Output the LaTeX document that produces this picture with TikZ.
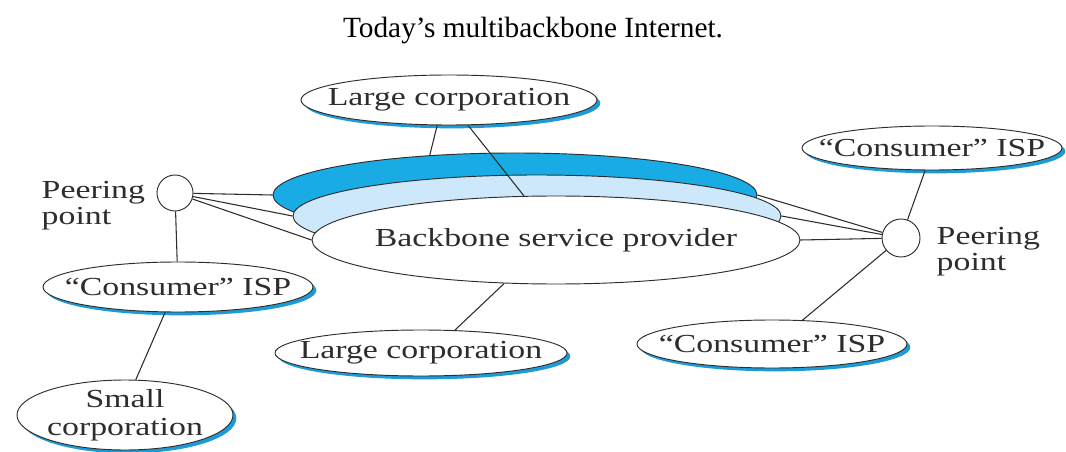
\documentclass[tikz,border=0pt]{standalone}
\usepackage{fontspec}
\setmainfont{Liberation Serif}
\newfontfamily\dgfont[FakeStretch=1.3]{Liberation Serif}
\usetikzlibrary{shapes.geometric,shadows}
\definecolor{bandDark}{RGB}{25,172,228}
\definecolor{bandLight}{RGB}{205,232,250}
\definecolor{shBlue}{RGB}{30,155,215}
\definecolor{ink}{RGB}{45,45,45}
\tikzset{
  x=0.75pt, y=-0.75pt,
  lbl/.style={font=\dgfont\fontsize{19.5}{19.5}\selectfont, text=ink},
  oval/.style={ellipse, draw=ink, line width=0.7pt, fill=white, inner xsep=-80pt, inner ysep=-30pt,
    lbl, general shadow={shadow xshift=2.5pt, shadow yshift=-2.5pt, fill=shBlue}},
  band/.style={ellipse, draw=ink, line width=0.7pt, inner xsep=-150pt, inner ysep=-30pt},
  peer/.style={circle, draw=ink, line width=0.7pt, fill=white, inner sep=0pt},
  link/.style={draw=ink, line width=0.8pt},
}
\begin{document}
\begin{tikzpicture}
\useasboundingbox[fill=white] (0,0) rectangle (1066,452);
\node[font=\fontsize{22}{24}\selectfont] (title) at (533,30) {Today’s multibackbone Internet.};

% backbone stack
\node[band, fill=bandDark, minimum width=363pt, minimum height=63pt] (dark) at (515,195) {};
\node[band, fill=bandLight, minimum width=366pt, minimum height=61.5pt] (light) at (537,216) {};
\node[band, fill=white, lbl, minimum width=366pt, minimum height=66pt] (bsp) at (556,240) {Backbone service provider};

% peering points
\node[peer, minimum size=27pt] (peerL) at (175,193) {};
\node[peer, minimum size=28.5pt] (peerR) at (901,238) {};
\node[lbl, align=left, anchor=west] (peerLlbl) at (37,206) {Peering\\point};
\node[lbl, align=left, anchor=west] (peerRlbl) at (932,252) {Peering\\point};

% other networks
\node[oval, minimum width=222pt, minimum height=37.5pt] (lc1) at (449,100) {Large corporation};
\node[oval, minimum width=202.5pt, minimum height=37.5pt] (cispL) at (178,287) {“Consumer” ISP};
\node[oval, align=center, font=\dgfont\fontsize{19.5}{21}\selectfont, minimum width=162pt, minimum height=52.5pt] (sc) at (125,415) {Small\\corporation};
\node[oval, minimum width=219pt, minimum height=34.5pt] (lc2) at (421,353) {Large corporation};
\node[oval, minimum width=195pt, minimum height=33pt] (cispTR) at (932,148) {“Consumer” ISP};
\node[oval, minimum width=202.5pt, minimum height=36pt] (cispBR) at (772,344) {“Consumer” ISP};

% connectors
\draw[link] (peerL) -- (dark.west);
\draw[link] (peerL) -- (light.west);
\draw[link] (peerL) -- (bsp.west);
\draw[link] (peerL) -- (cispL);
\draw[link] (cispL.-117) -- (sc.73);
\draw[link] (lc1.-115) -- (dark.155);
\draw[link] (lc1.-53) -- (bsp.126);
\draw[link] (lc2.34) -- (bsp.-140);
\draw[link] (peerR) -- (bsp.east);
\draw[link] (peerR) -- (light.east);
\draw[link] (peerR) -- (dark.east);
\draw[link] (peerR) -- (cispTR.-107);
\draw[link] (peerR) -- (cispBR.38);
\end{tikzpicture}
\end{document}
